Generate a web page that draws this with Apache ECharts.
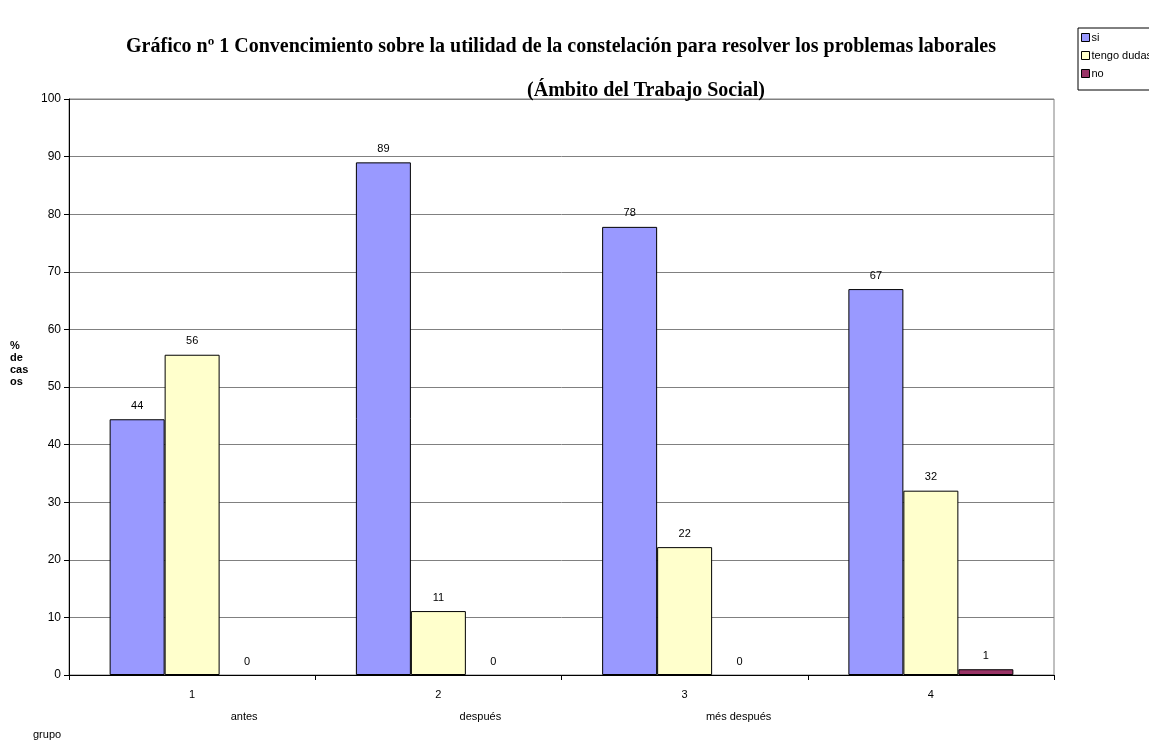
<!DOCTYPE html>
<html>
<head>
<meta charset="utf-8">
<script src="https://cdn.jsdelivr.net/npm/echarts@6/dist/echarts.min.js"></script>
<style>html,body{margin:0;padding:0;background:#fff}#c{width:1149px;height:740px}</style>
</head>
<body>
<div id="c"></div>
<script>
const categories = ['1', '2', '3', '4'];
const groupLabels = ['antes', 'después', 'més después'];
const seriesNames = ['si', 'tengo dudas', 'no'];
const siValues = [44.4, 89.0, 77.8, 67.0];
const dudasValues = [55.6, 11.1, 22.2, 32.0];
const noValues = [0, 0, 0, 1.0];
const yTicks = { min: 0, max: 100, interval: 10 };

const chart = echarts.init(document.getElementById('c'), null, { renderer: 'canvas' });
const labelCfg = {
  show: true, position: 'top', distance: 8,
  fontFamily: 'Arial, Liberation Sans', fontSize: 11, color: '#000',
  formatter: p => Math.round(p.value)
};
const mk = (name, data, color) => ({
  name, type: 'bar',
  data: data.map(v => v === 0 ? { value: v, itemStyle: { borderWidth: 0, color: 'rgba(0,0,0,0)' } } : v),
  barGap: '0%', barCategoryGap: '33%',
  itemStyle: { color, borderColor: '#000', borderWidth: 1 },
  label: labelCfg, emphasis: { disabled: true }
});
chart.setOption({
  animation: false,
  backgroundColor: '#fff',
  textStyle: { fontFamily: 'Arial, Liberation Sans' },
  grid: { left: 69, right: 95, top: 99, bottom: 65, show: true, borderColor: '#808080', borderWidth: 1 },
  legend: {
    orient: 'vertical', left: 1078, top: 28, itemWidth: 8, itemHeight: 8, itemGap: 7,
    borderColor: '#000', borderWidth: 1, padding: [4, 6, 11, 3],
    textStyle: { fontSize: 11, color: '#000', padding: [0, 0, 0, -3] },
    icon: 'rect',
    itemStyle: { borderColor: '#000', borderWidth: 1 },
    data: seriesNames.map((n, i) => ({ name: n, itemStyle: { color: ['#9999FF', '#FFFFCC', '#993366'][i] } }))
  },
  xAxis: {
    type: 'category', data: categories,
    axisLine: { lineStyle: { color: '#000', width: 1 } },
    axisTick: { show: true, length: 5, lineStyle: { color: '#000' } },
    axisLabel: { fontSize: 11, color: '#000', margin: 14 }
  },
  yAxis: {
    type: 'value', min: yTicks.min, max: yTicks.max, interval: yTicks.interval,
    axisLine: { show: true, lineStyle: { color: '#000', width: 1 } },
    axisTick: { show: true, length: 5, lineStyle: { color: '#000' } },
    axisLabel: { fontSize: 12, color: '#000', margin: 8 },
    splitLine: { lineStyle: { color: '#808080', width: 1 } }
  },
  series: [
    mk(seriesNames[0], siValues, '#9999FF'),
    mk(seriesNames[1], dudasValues, '#FFFFCC'),
    mk(seriesNames[2], noValues, '#993366')
  ]
});

const offsets = [52, 42, 54];
const titleFont = 'bold 20px "Liberation Serif", "Times New Roman", serif';
const graphics = [
  { type: 'text', x: 561, y: 37, style: { text: 'Gráfico nº 1 Convencimiento sobre la utilidad de la constelación para resolver los problemas laborales', font: titleFont, fill: '#000', align: 'center' } },
  { type: 'text', x: 646, y: 81, style: { text: '(Ámbito del Trabajo Social)', font: titleFont, fill: '#000', align: 'center' } },
  { type: 'text', x: 10, y: 340, style: { text: '%\nde\ncas\nos', font: 'bold 11px Arial, "Liberation Sans"', fill: '#000', lineHeight: 12 } },
  { type: 'text', x: 33, y: 729, style: { text: 'grupo', font: '11px Arial, "Liberation Sans"', fill: '#000' } }
];
groupLabels.forEach((t, i) => {
  const px = chart.convertToPixel({ xAxisIndex: 0 }, categories[i]);
  graphics.push({ type: 'text', x: px + offsets[i], y: 711, style: { text: t, font: '11px Arial, "Liberation Sans"', fill: '#000', align: 'center' } });
});
chart.setOption({ graphic: graphics });
</script>
</body>
</html>
